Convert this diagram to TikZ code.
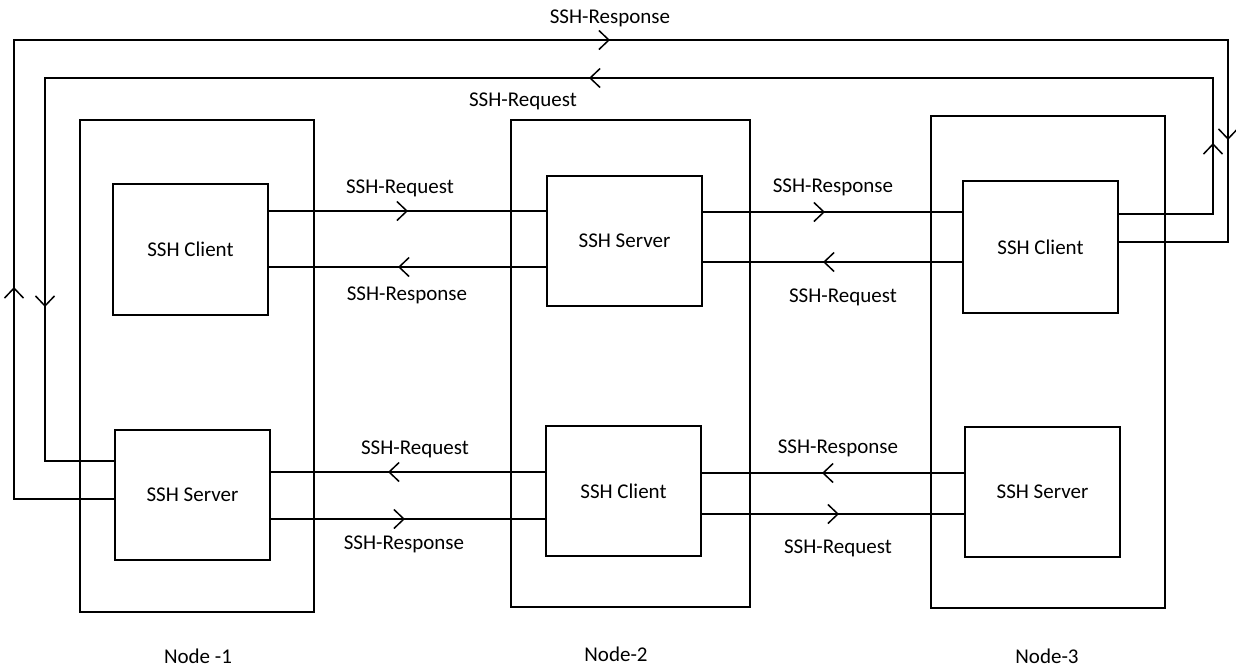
\documentclass[tikz,border=0pt]{standalone}
\usepackage{fontspec}
\setmainfont{Carlito}
\usetikzlibrary{arrows.meta,decorations.markings}

\tikzset{
  chevron/.tip={Straight Barb[length=5pt,width=9.5pt,line width=0.75pt]},
  wire/.style={line width=0.8pt,black},
  box/.style={draw,line width=0.8pt,inner sep=0pt,outer sep=0pt,
              minimum width=77.5pt,minimum height=65pt,
              font=\fontsize{10.5}{12}\selectfont},
  hostbox/.style={draw,line width=0.8pt,inner sep=0pt,outer sep=0pt},
  lbl/.style={inner sep=0pt,font=\fontsize{10.5}{12}\selectfont},
  % chevron placed at a given distance along a connector
  flowmark/.style={postaction={decorate,decoration={markings,
      mark=at position #1 with {\arrow{chevron}}}}},
}

\begin{document}
\begin{tikzpicture}[x=0.5pt,y=-0.5pt]
\useasboundingbox (0,0) rectangle (1236,670);

% hosts
\node[hostbox,minimum width=117pt,minimum height=246pt] (n1) at (197,366) {};
\node[hostbox,minimum width=119.5pt,minimum height=243.5pt] (n2) at (630.5,363.5) {};
\node[hostbox,minimum width=117pt,minimum height=246pt] (n3) at (1048,362) {};

\node[lbl] (n1lbl) at (198,656) {Node -1};
\node[lbl] (n2lbl) at (616,654) {Node-2};
\node[lbl] (n3lbl) at (1047,656) {Node-3};

% SSH endpoints inside each host
\node[box,minimum height=65.5pt] (c1) at (190.5,249.5) {SSH Client};
\node[box] (s2) at (624.5,241) {SSH Server};
\node[box,minimum height=66pt] (c3) at (1040.5,247) {SSH Client};
\node[box] (s1) at (192.5,495) {SSH Server};
\node[box] (c2) at (623.5,491) {SSH Client};
\node[box] (s3) at (1042.5,492) {SSH Server};

% Node-1 client <-> Node-2 server
\draw[wire,flowmark=70pt] (c1.east |- 0,211) -- (s2.west |- 0,211);
\draw[wire,flowmark=74.5pt] (s2.west |- 0,267) -- (c1.east |- 0,267);
\node[lbl] (l1) at (400,188) {SSH-Request};
\node[lbl] (l2) at (407,295) {SSH-Response};

% Node-2 server <-> Node-3 client
\draw[wire,flowmark=61.5pt] (s2.east |- 0,212) -- (c3.west |- 0,212);
\draw[wire,flowmark=70pt] (c3.west |- 0,262) -- (s2.east |- 0,262);
\node[lbl] (l3) at (833,187) {SSH-Response};
\node[lbl] (l4) at (843,297) {SSH-Request};

% Node-2 client <-> Node-1 server
\draw[wire,flowmark=79pt] (c2.west |- 0,472) -- (s1.east |- 0,472);
\draw[wire,flowmark=67.5pt] (s1.east |- 0,519) -- (c2.west |- 0,519);
\node[lbl] (l5) at (415,449) {SSH-Request};
\node[lbl] (l6) at (404,544) {SSH-Response};

% Node-3 server <-> Node-2 client
\draw[wire,flowmark=71.5pt] (s3.west |- 0,473) -- (c2.east |- 0,473);
\draw[wire,flowmark=69pt] (c2.east |- 0,514) -- (s3.west |- 0,514);
\node[lbl] (l7) at (838,448) {SSH-Response};
\node[lbl] (l8) at (838,548) {SSH-Request};

% Node-3 client -> Node-1 server, routed round the top and left side
\coordinate (rq1) at (1213,214);
\coordinate (rq2) at (1213,78);
\coordinate (rq3) at (45,78);
\coordinate (rq4) at (45,461);
\draw[wire,line join=miter,
      flowmark=83pt,flowmark=427.5pt,flowmark=814pt]
  (c3.east |- rq1) -- (rq1) -- (rq2) -- (rq3) -- (rq4) -- (s1.west |- rq4);
\node[lbl] (l9) at (523,101) {SSH-Request};

% Node-1 server -> Node-3 client, outer loop
\coordinate (rs1) at (14,499);
\coordinate (rs2) at (14,40);
\coordinate (rs3) at (1228,40);
\coordinate (rs4) at (1228,242);
\draw[wire,line join=miter,
      flowmark=156.5pt,flowmark=578pt,flowmark=937pt]
  (s1.west |- rs1) -- (rs1) -- (rs2) -- (rs3) -- (rs4) -- (c3.east |- rs4);
\node[lbl] (l10) at (610,18) {SSH-Response};

\end{tikzpicture}
\end{document}
